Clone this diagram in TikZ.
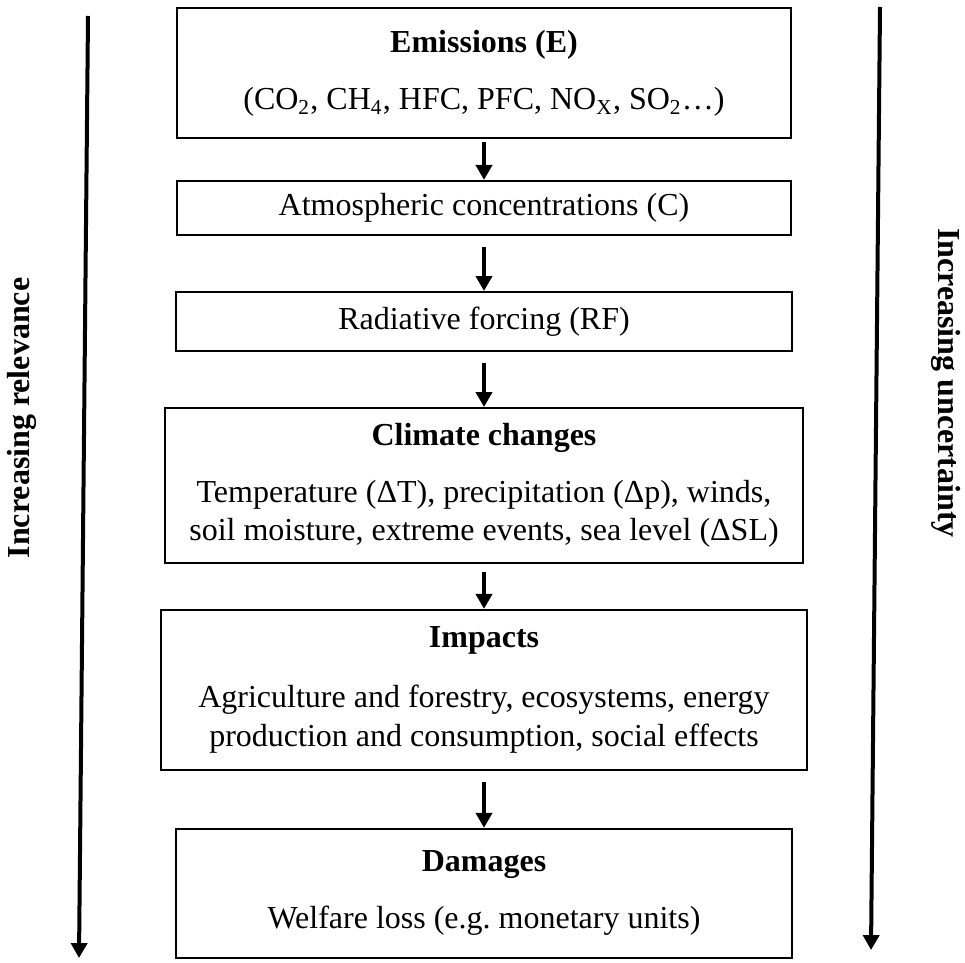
\documentclass[tikz,border=0pt]{standalone}
\usepackage{fontspec}
\setmainfont{Liberation Serif}
\usetikzlibrary{arrows.meta, positioning}

\begin{document}
\begin{tikzpicture}[
  x=0.375pt, y=-0.375pt,
  box/.style={rectangle, draw, line width=0.75pt, align=center, inner sep=0pt, font=\fontsize{12}{14.4}\selectfont},
  arrow/.style={line width=1.5pt, -{Triangle[length=5.6pt, width=6pt]}},
  sidearrow/.style={line width=1.5pt, -{Triangle[length=5.6pt, width=6pt]}},
  sidelabel/.style={font=\fontsize{12}{14.4}\selectfont\bfseries}
]
  \useasboundingbox (0,0) rectangle (965,962);

  \node[box, anchor=north, minimum width=230pt, minimum height=48.75pt] (emis) at (484,7) {\textbf{Emissions (E)}\\[7pt](CO\textsubscript{2}, CH\textsubscript{4}, HFC, PFC, NO\textsubscript{X}, SO\textsubscript{2}\ldots)};
  \node[box, below=15.35pt of emis, minimum width=230.6pt, minimum height=20.25pt] (conc) {Atmospheric concentrations (C)};
  \node[box, below=20.65pt of conc, minimum width=231pt, minimum height=22.1pt] (forc) {Radiative forcing (RF)};
  \node[box, below=20.65pt of forc, minimum width=238.9pt, minimum height=58.1pt] (clim) {\textbf{Climate changes}\\[7pt]Temperature (ΔT), precipitation (Δp), winds,\\soil moisture, extreme events, sea level (ΔSL)};
  \node[box, below=16.85pt of clim, minimum width=242.6pt, minimum height=60pt] (imp) {\textbf{Impacts}\\[8pt]Agriculture and forestry, ecosystems, energy\\production and consumption, social effects};
  \node[box, below=21.35pt of imp, minimum width=231pt, minimum height=48.4pt] (dam) {\textbf{Damages}\\[7pt]Welfare loss (e.g.\ monetary units)};

  \draw[arrow, shorten <=1pt] (emis) -- (conc);
  \draw[arrow, shorten <=4pt] (conc) -- (forc);
  \draw[arrow, shorten <=4pt] (forc) -- (clim);
  \draw[arrow, shorten <=3pt] (clim) -- (imp);
  \draw[arrow, shorten <=4pt] (imp) -- (dam);

  \coordinate (ltop) at (88,16);
  \coordinate (lbot) at (79,958);
  \coordinate (rtop) at (880,7);
  \coordinate (rbot) at (871,950);
  \draw[sidearrow] (ltop) -- (lbot);
  \draw[sidearrow] (rtop) -- (rbot);

  \node[sidelabel, rotate=90] (relev) at (22,418) {Increasing relevance};
  \node[sidelabel, rotate=-90] (uncert) at (946,383) {Increasing uncertainty};
\end{tikzpicture}
\end{document}
